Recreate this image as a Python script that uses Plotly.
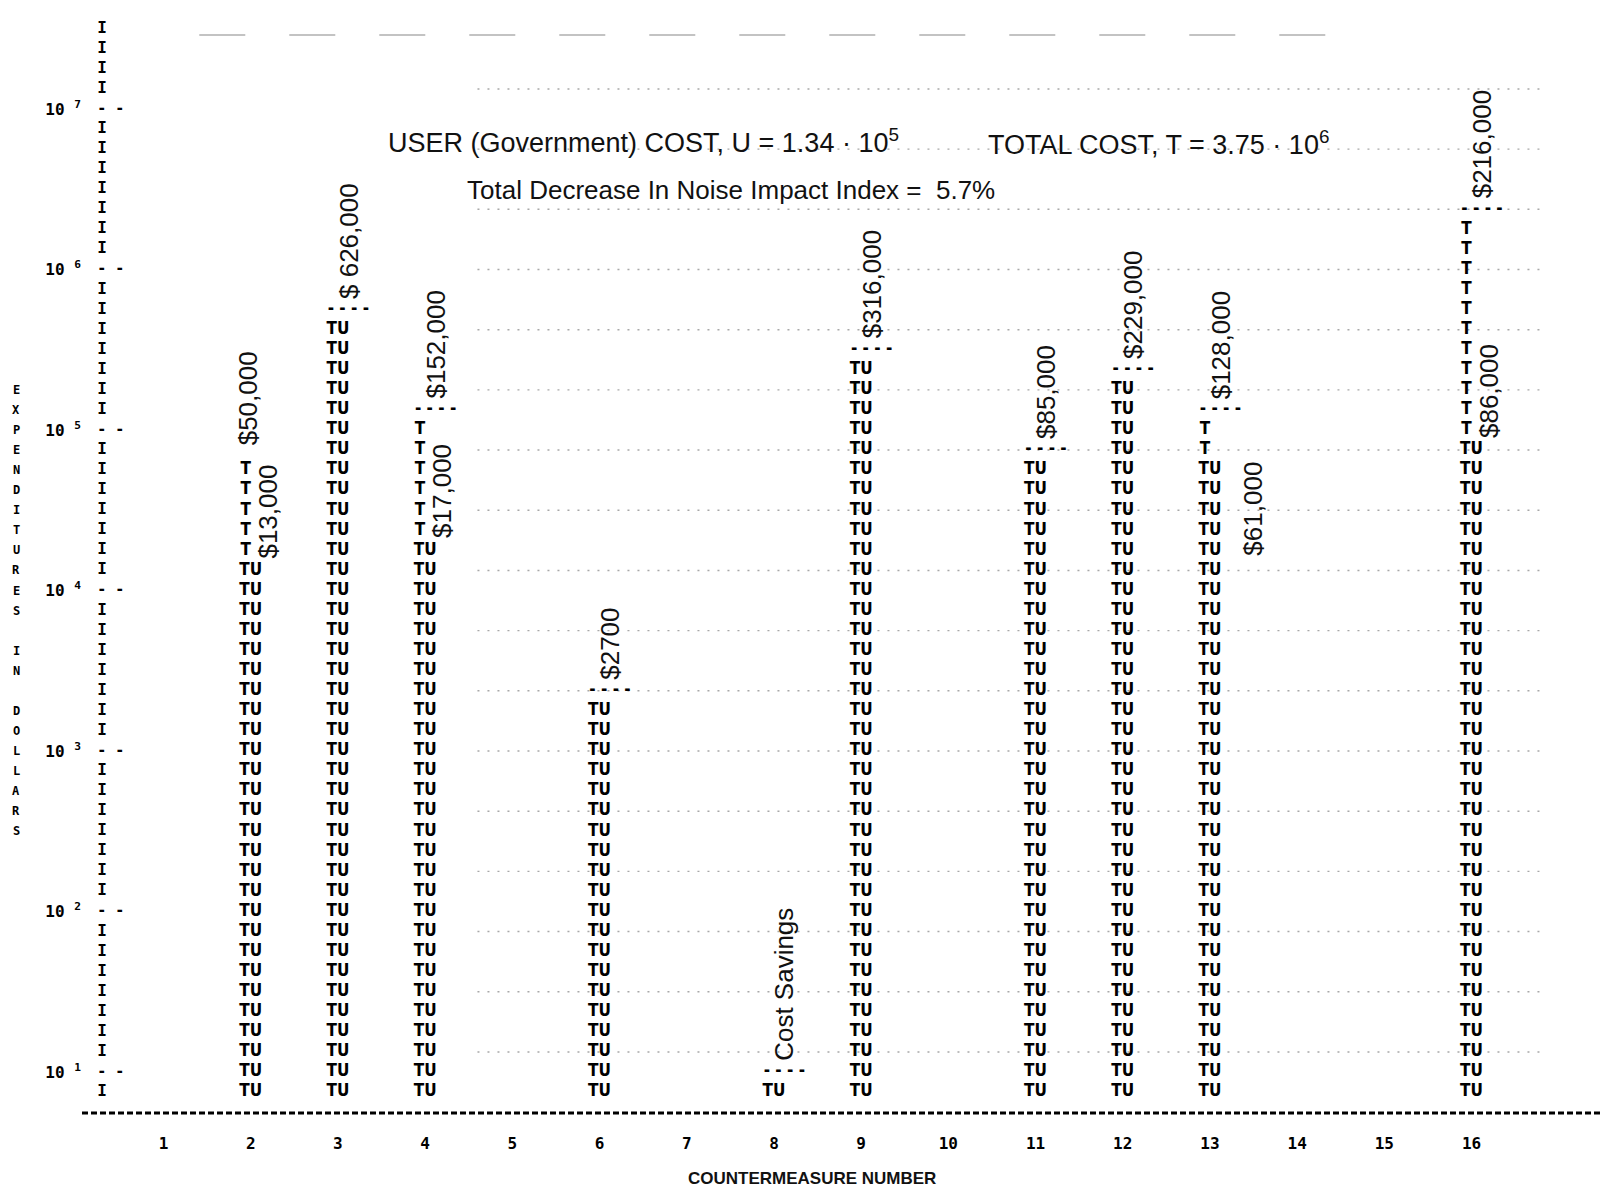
import numpy as np
import plotly.graph_objects as go

# ---------------- data ----------------
categories = list(range(1, 17))
x_tick_labels = [str(c) for c in categories]

bar_cats = [2, 3, 4, 6, 8, 9, 11, 12, 13, 16]
total_cost = [50000, 626000, 152000, 2700, 11, 316000, 85000, 229000, 128000, 2160000]
user_cost = [13000, 626000, 17000, 2700, 11, 316000, 85000, 229000, 61000, 86000]
total_labels = ["$50,000", "$ 626,000", "$152,000", "$2700", "Cost Savings",
                "$316,000", "$85,000", "$229,000", "$128,000", "$216,000"]
user_labels = ["$13,000", "", "$17,000", "", "", "", "", "", "$61,000", "$86,000"]

y_exponents = [1, 2, 3, 4, 5, 6, 7]
y_tick_text = ["10&#160;<sup>%d</sup>" % e for e in y_exponents]

header_user = "USER (Government) COST, U = 1.34 \u00b7 10<sup>5</sup>"
header_total = "TOTAL COST, T = 3.75 \u00b7 10<sup>6</sup>"
header_noise = "Total Decrease In Noise Impact Index =  5.7%"
y_title = "EXPENDITURES IN DOLLARS"
x_title = "COUNTERMEASURE NUMBER"

# ---------------- layout geometry ----------------
W, H = 1602, 1194
ML, MR, MT, MB = 82, 0, 25, 81
PW, PH = W - ML - MR, H - MT - MB
X_RANGE = [0.065, 17.496]
Y_RANGE = [0.7445, 7.5234]          # log10 units

ROW0, STEP = 0.875, 0.125           # printer row grid (log10 units)
ROW_PX = PH * STEP / (Y_RANGE[1] - Y_RANGE[0])
LABEL_SIZE = 26


def px_x(p):
    return (p - ML) / PW


def px_y(p):
    return (H - MB - p) / PH


def ridx(v):
    return int(np.floor((np.log10(v) - ROW0) / STEP + 0.5))


def label_rows(txt):
    # approximate rotated label length, in printer rows
    return len(txt) * 0.556 * LABEL_SIZE / ROW_PX


BAR_FONT = "Liberation Sans Narrow, DejaVu Sans Condensed, Arial Narrow, sans-serif"
LAB_FONT = "Liberation Sans, Arial, sans-serif"
MONO = "DejaVu Sans Mono, Liberation Mono, monospace"

fig = go.Figure()

# dotted horizontal printer grid
grid_levels = [0.75 + 0.375 * k for k in range(1, 18)]
gx, gy = [], []
for g in grid_levels:
    gx += [4.6, 16.8, None]
    gy += [10 ** g, 10 ** g, None]
fig.add_trace(go.Scatter(x=gx, y=gy, mode="lines", hoverinfo="skip",
                         line=dict(color="#a8a8a8", width=1.4, dash="2px,8px")))

# y axis drawn as a column of printer characters
axis_x = 1 + (102 - 163.5) / 87.2
ax_i_y, ax_d_y = [], []
k = 0
while ROW0 + k * STEP <= Y_RANGE[1] - 0.02:
    r = ROW0 + k * STEP
    if abs(r - round(r)) < 1e-9:
        ax_d_y.append(10 ** r)
    else:
        ax_i_y.append(10 ** r)
    k += 1
fig.add_trace(go.Scatter(x=[axis_x] * len(ax_i_y), y=ax_i_y, mode="text", text=["I"] * len(ax_i_y),
                         textfont=dict(family=MONO, size=16, color="#000", weight="bold"),
                         cliponaxis=False, hoverinfo="skip"))
fig.add_trace(go.Scatter(x=[axis_x + 0.1] * len(ax_d_y), y=ax_d_y, mode="text", text=["- -"] * len(ax_d_y),
                         textfont=dict(family=MONO, size=15, color="#000", weight="bold"),
                         cliponaxis=False, hoverinfo="skip"))

# bars as columns of "TU" / "T" rows with a dashed top marker
tu_x, tu_y, t_x, t_y, m_x, m_y = [], [], [], [], [], []
annotations = []
lab_font = dict(family=LAB_FONT, size=LABEL_SIZE, color="#111")
for c, tv, uv, tl, ul in zip(bar_cats, total_cost, user_cost, total_labels, user_labels):
    m = ridx(tv)
    t_lab_x, t_lab_row = c + 0.12, m + 0.45
    show_marker = True
    if uv < tv:
        u_top = ridx(uv)
        tu_rows = range(0, u_top + 1)
        t_last = m - 1
        if ul and m - u_top >= 4:
            u_lab_top = u_top + 0.5 + label_rows(ul)
            annotations.append(dict(x=c + 0.2, y=ROW0 + (u_top + 0.5) * STEP, xref="x", yref="y",
                                    text=ul, textangle=-90, showarrow=False,
                                    xanchor="center", yanchor="bottom", font=lab_font))
            if u_lab_top > m - 0.5:
                # user label reaches the top: no marker, T rows run to the top
                show_marker = False
                t_last = m
                t_lab_x = c - 0.03
                t_lab_row = max(m + 0.45, u_lab_top + 0.6)
        elif ul:
            annotations.append(dict(x=c + 0.5, y=ROW0 + (u_top + 0.5) * STEP, xref="x", yref="y",
                                    text=ul, textangle=-90, showarrow=False,
                                    xanchor="center", yanchor="top", font=lab_font))
        t_rows = range(u_top + 1, t_last + 1)
    else:
        tu_rows = range(0, m)
        t_rows = range(0)
    for i in tu_rows:
        tu_x.append(c)
        tu_y.append(10 ** (ROW0 + i * STEP))
    for i in t_rows:
        t_x.append(c - 0.058)
        t_y.append(10 ** (ROW0 + i * STEP))
    if show_marker:
        m_x.append(c + 0.12)
        m_y.append(10 ** (ROW0 + m * STEP))
    annotations.append(dict(x=t_lab_x, y=ROW0 + t_lab_row * STEP, xref="x", yref="y",
                            text=tl, textangle=-90, showarrow=False,
                            xanchor="center", yanchor="bottom", font=lab_font))

bar_font = dict(family=BAR_FONT, size=17, color="#000", weight="bold")
fig.add_trace(go.Scatter(x=tu_x, y=tu_y, mode="text", text=["TU"] * len(tu_x),
                         textfont=bar_font, cliponaxis=False, hoverinfo="skip"))
fig.add_trace(go.Scatter(x=t_x, y=t_y, mode="text", text=["T"] * len(t_x),
                         textfont=bar_font, cliponaxis=False, hoverinfo="skip"))
fig.add_trace(go.Scatter(x=m_x, y=m_y, mode="text", text=["- - - -"] * len(m_x),
                         textfont=bar_font, cliponaxis=False, hoverinfo="skip"))

# header texts
annotations += [
    dict(x=px_x(386), y=px_y(141), xref="paper", yref="paper", text=header_user,
         showarrow=False, xanchor="left", yanchor="middle",
         font=dict(family=LAB_FONT, size=27, color="#111")),
    dict(x=px_x(986), y=px_y(143), xref="paper", yref="paper", text=header_total,
         showarrow=False, xanchor="left", yanchor="middle",
         font=dict(family=LAB_FONT, size=27, color="#111")),
    dict(x=px_x(465), y=px_y(190), xref="paper", yref="paper", text=header_noise,
         showarrow=False, xanchor="left", yanchor="middle",
         font=dict(family=LAB_FONT, size=26, color="#111")),
    dict(x=px_x(812), y=px_y(1178), xref="paper", yref="paper", text=x_title,
         showarrow=False, xanchor="center", yanchor="middle",
         font=dict(family=LAB_FONT, size=17, color="#111", weight="bold")),
]

# vertical stacked y-axis title, one letter per printer row
top_row = 35
for i, ch in enumerate(y_title):
    if ch == " ":
        continue
    annotations.append(dict(x=px_x(16), y=ROW0 + (top_row - i) * STEP, xref="paper", yref="y",
                            text=ch, showarrow=False, xanchor="center", yanchor="middle",
                            font=dict(family=MONO, size=12, color="#000", weight="bold")))

shapes = [
    # dotted bottom axis line
    dict(type="line", xref="paper", yref="paper", x0=0, x1=1, y0=0, y1=0,
         line=dict(color="#000", width=3, dash="6px,3px")),
    # faint top frame
    dict(type="line", xref="x", yref="paper", x0=1.41, x1=14.49, y0=px_y(35), y1=px_y(35),
         line=dict(color="#888", width=1.2, dash="46px,44px")),
]

fig.update_layout(
    width=W, height=H, autosize=False,
    margin=dict(l=ML, r=MR, t=MT, b=MB),
    paper_bgcolor="white", plot_bgcolor="white",
    showlegend=False,
    annotations=annotations,
    shapes=shapes,
    xaxis=dict(range=X_RANGE, tickmode="array", tickvals=categories, ticktext=x_tick_labels,
               showgrid=False, zeroline=False, showline=False,
               ticks="outside", ticklen=16, tickcolor="rgba(0,0,0,0)",
               tickfont=dict(family=MONO, size=16, color="#000", weight="bold")),
    yaxis=dict(type="log", range=Y_RANGE, tickmode="array",
               tickvals=[10 ** e for e in y_exponents], ticktext=y_tick_text,
               showgrid=False, zeroline=False, showline=False, ticks="",
               tickfont=dict(family=MONO, size=16, color="#000", weight="bold")),
)

fig.write_html("out.html")
